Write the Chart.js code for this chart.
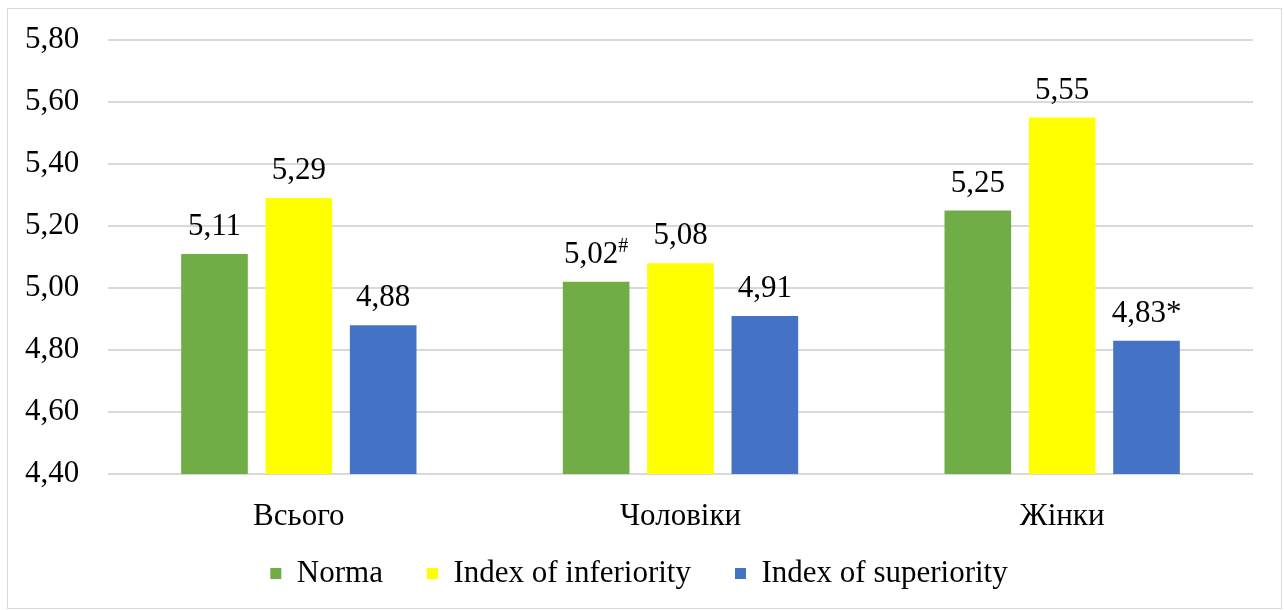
<!DOCTYPE html>
<html>
<head>
<meta charset="utf-8">
<script src="https://cdn.jsdelivr.net/npm/chart.js@4"></script>
<style>
  html, body { margin: 0; padding: 0; background: #fff; }
  #wrap {
    position: absolute; left: 7px; top: 8px;
    width: 1273px; height: 599px;
    border: 1px solid #d9d9d9;
  }
</style>
</head>
<body>
<div id="wrap"><canvas id="myChart" width="1273" height="599"></canvas></div>
<script>
const categorias = ['Всього', 'Чоловіки', 'Жінки'];
const norma = [5.11, 5.02, 5.25];
const inferiority = [5.29, 5.08, 5.55];
const superiority = [4.88, 4.91, 4.83];
// marcas junto a las etiquetas
const marcasNorma = ['', '#', ''];
const marcasInferiority = ['', '', ''];
const marcasSuperiority = ['', '', '*'];

const fuente = "'Liberation Serif', 'Times New Roman', serif";

function formato(v) {
    return v.toFixed(2).replace('.', ',');
}

const etiquetasPlugin = {
    id: 'etiquetas',
    afterDatasetsDraw(chart) {
        const ctx = chart.ctx;
        ctx.save();
        ctx.fillStyle = '#000';
        ctx.textBaseline = 'alphabetic';
        chart.data.datasets.forEach((ds, i) => {
            const meta = chart.getDatasetMeta(i);
            meta.data.forEach((bar, j) => {
                const texto = formato(ds.data[j]);
                const marca = ds.marcas[j];
                ctx.font = '31px ' + fuente;
                const w1 = ctx.measureText(texto).width;
                let w2 = 0;
                if (marca === '#') {
                    ctx.font = '20px ' + fuente;
                    w2 = ctx.measureText(marca).width;
                } else if (marca) {
                    w2 = ctx.measureText(marca).width;
                }
                const x0 = bar.x - (w1 + w2) / 2;
                const y0 = bar.y - 19;
                ctx.font = '31px ' + fuente;
                ctx.textAlign = 'left';
                ctx.fillText(texto, x0, y0);
                if (marca === '#') {
                    ctx.font = '20px ' + fuente;
                    ctx.fillText(marca, x0 + w1, y0 - 11);
                } else if (marca) {
                    ctx.fillText(marca, x0 + w1, y0);
                }
            });
        });
        ctx.restore();
    }
};

const ctx = document.getElementById('myChart').getContext('2d');

new Chart(ctx, {
    type: 'bar',
    data: {
        labels: categorias,
        datasets: [
            { label: 'Norma', data: norma, marcas: marcasNorma, backgroundColor: '#70AD47' },
            { label: 'Index of inferiority', data: inferiority, marcas: marcasInferiority, backgroundColor: '#FFFF00' },
            { label: 'Index of superiority', data: superiority, marcas: marcasSuperiority, backgroundColor: '#4472C4' }
        ]
    },
    options: {
        responsive: false,
        animation: false,
        layout: { padding: { left: 17, right: 28, top: 31, bottom: 9 } },
        datasets: {
            bar: { categoryPercentage: 0.663, barPercentage: 0.79 }
        },
        plugins: {
            tooltip: { enabled: false },
            legend: {
                position: 'bottom',
                labels: {
                    font: { family: fuente, size: 31 },
                    color: '#000',
                    boxWidth: 11,
                    boxHeight: 11,
                    padding: 44
                }
            }
        },
        scales: {
            x: {
                grid: { display: false },
                border: { display: false },
                ticks: {
                    font: { family: fuente, size: 31 },
                    color: '#000',
                    padding: 16
                },
                afterFit: (escala) => {
                    escala.height = 40;
                    // sin recorte de las etiquetas
                    escala._computeLabelArea = () => undefined;
                }
            },
            y: {
                min: 4.4,
                max: 5.8,
                grid: { color: '#d9d9d9', lineWidth: 2, drawTicks: false },
                border: { display: false },
                ticks: {
                    stepSize: 0.2,
                    font: { family: fuente, size: 31 },
                    color: '#000',
                    padding: 0,
                    crossAlign: 'far',
                    callback: (v) => formato(v)
                },
                afterFit: (escala) => { escala.width = 83; }
            }
        }
    },
    plugins: [etiquetasPlugin]
});
</script>
</body>
</html>
